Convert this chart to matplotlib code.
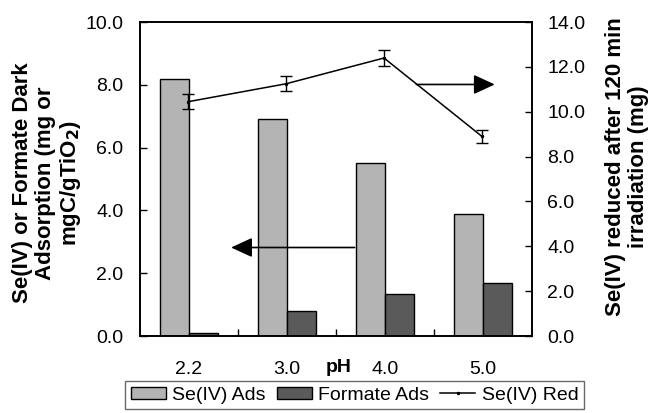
import numpy as np
import matplotlib
matplotlib.use("Agg")
import matplotlib.pyplot as plt
from matplotlib.lines import Line2D
from matplotlib.ticker import FormatStrFormatter, MultipleLocator

plt.rcParams['font.family'] = ['Liberation Sans', 'DejaVu Sans']

ph_labels = ["2.2", "3.0", "4.0", "5.0"]
se_ads = [8.2, 6.9, 5.5, 3.9]          # left axis
formate_ads = [0.1, 0.8, 1.35, 1.7]    # left axis
se_red = [10.45, 11.25, 12.4, 8.9]     # right axis
se_red_err = [0.34, 0.33, 0.36, 0.27]

x = np.arange(len(ph_labels))
bar_w = 0.295

fig = plt.figure(figsize=(6.48, 4.13), dpi=100)
ax = fig.add_axes([0.216, 0.1864, 0.605, 0.760])
ax2 = ax.twinx()

ax.bar(x - 0.15, se_ads, bar_w, color='#b4b4b4', edgecolor='black', linewidth=1.0,
       label='Se(IV) Ads')
ax.bar(x + 0.145, formate_ads, bar_w, color='#5a5a5a', edgecolor='black', linewidth=1.0,
       label='Formate Ads')
ax2.errorbar(x - 0.01, se_red, yerr=se_red_err, color='black', linewidth=1.1,
             marker='.', markersize=3, capsize=4, elinewidth=1.0, capthick=1.0)

ax.set_xlim(-0.5, 3.5)
ax.set_ylim(0, 10)
ax2.set_ylim(0, 14)
ax.yaxis.set_major_locator(MultipleLocator(2))
ax2.yaxis.set_major_locator(MultipleLocator(2))
ax.yaxis.set_major_formatter(FormatStrFormatter('%.1f'))
ax2.yaxis.set_major_formatter(FormatStrFormatter('%.1f'))

ax.set_xticks(x)
ax.set_xticklabels(ph_labels)
ax.set_xticks(x[:-1] + 0.5, minor=True)
ax.tick_params(axis='x', which='major', length=0, pad=18, labelsize=14)
ax.tick_params(axis='x', which='minor', direction='in', length=5, width=1)
ax.tick_params(axis='y', direction='in', length=5, width=1, pad=12, labelsize=14)
ax2.tick_params(axis='y', direction='in', length=5, width=1, pad=11, labelsize=14)
for a in (ax, ax2):
    for s in a.spines.values():
        s.set_linewidth(1.2)

ax.set_xlabel('pH', fontsize=14, fontweight='bold')
ax.xaxis.set_label_coords(0.508, -0.072)
ax.xaxis.label.set_va('top')

fig.text(0.073, 0.557, 'Se(IV) or Formate Dark\nAdsorption (mg or\nmgC/gTiO$_\\mathbf{2}$)',
         rotation=90, ha='center', va='center', fontsize=16, fontweight='bold',
         linespacing=1.1)
fig.text(0.968, 0.596, 'Se(IV) reduced after 120 min\nirradiation (mg)',
         rotation=90, ha='center', va='center', fontsize=16, fontweight='bold',
         linespacing=1.1)

arrow = dict(arrowstyle='-|>,head_length=1.3,head_width=0.6', color='black',
             lw=1.2, mutation_scale=10, shrinkA=0, shrinkB=0)
ax2.annotate('', xy=(3.12, 11.22), xytext=(2.32, 11.22), arrowprops=arrow)
ax.annotate('', xy=(0.43, 2.82), xytext=(1.69, 2.82), arrowprops=arrow)

h1, l1 = ax.get_legend_handles_labels()
red_handle = Line2D([], [], color='black', linewidth=1.1, marker='.', markersize=3)
leg = fig.legend(h1 + [red_handle], l1 + ['Se(IV) Red'], loc='upper right',
                 bbox_to_anchor=(0.902, 0.078),
                 ncol=3, fontsize=14, frameon=True, fancybox=False,
                 handlelength=1.8, handleheight=0.6, handletextpad=0.35,
                 columnspacing=0.55, borderpad=0.3, borderaxespad=0)
leg.get_frame().set_edgecolor('#444444')
leg.get_frame().set_linewidth(1.0)

fig.savefig('out.png', dpi=100)
